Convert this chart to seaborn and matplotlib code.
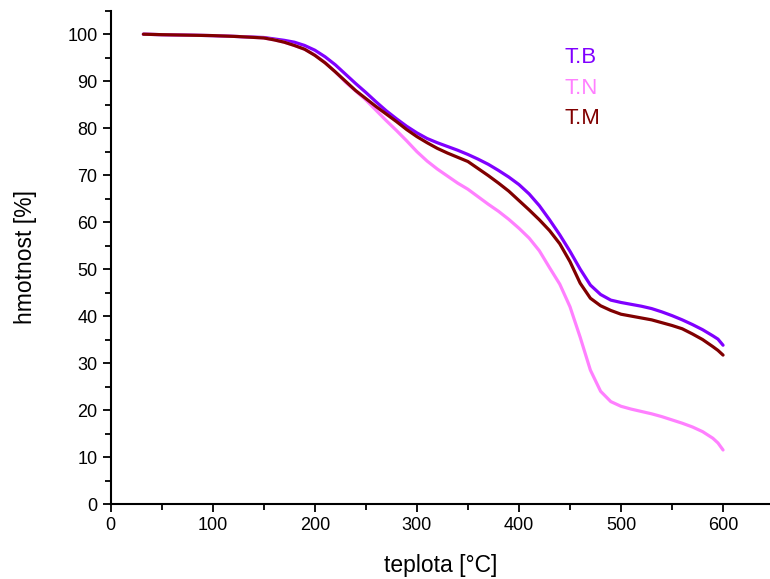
import matplotlib
matplotlib.use("Agg")
import matplotlib.pyplot as plt
import seaborn as sns
import pandas as pd
from matplotlib.ticker import MultipleLocator

temperature = [32, 50, 75, 100, 125, 150, 160, 170, 180, 190, 200, 210, 220, 230, 240, 250,
               260, 270, 280, 290, 300, 310, 320, 330, 340, 350, 360, 370, 380, 390, 400,
               410, 420, 430, 440, 450, 460, 470, 480, 490, 500, 510, 520, 530, 540, 550,
               560, 570, 580, 590, 595, 600]
tb = [100.0, 99.9, 99.8, 99.7, 99.5, 99.3, 99.0, 98.7, 98.3, 97.6, 96.6, 95.2, 93.5, 91.5,
      89.5, 87.6, 85.6, 83.7, 82.0, 80.4, 79.0, 77.8, 76.9, 76.1, 75.3, 74.4, 73.4, 72.3,
      71.0, 69.6, 68.0, 66.0, 63.5, 60.5, 57.3, 53.8, 50.0, 46.6, 44.6, 43.4, 42.9, 42.5,
      42.1, 41.6, 40.9, 40.1, 39.2, 38.2, 37.1, 35.8, 35.1, 33.8]
tn = [100.0, 99.9, 99.8, 99.7, 99.5, 99.2, 98.8, 98.3, 97.6, 96.8, 95.6, 94.0, 92.0, 89.8,
      87.9, 86.0, 83.8, 81.6, 79.5, 77.3, 75.0, 73.0, 71.3, 69.8, 68.3, 67.0, 65.4, 63.8,
      62.3, 60.6, 58.7, 56.6, 53.9, 50.3, 46.8, 42.0, 35.5, 28.5, 24.0, 21.8, 20.8, 20.2,
      19.7, 19.2, 18.6, 17.9, 17.2, 16.4, 15.4, 14.0, 13.0, 11.5]
tm = [100.0, 99.9, 99.8, 99.7, 99.5, 99.2, 98.8, 98.3, 97.6, 96.8, 95.5, 93.9, 92.0, 90.0,
      88.0, 86.3, 84.6, 83.0, 81.4, 79.7, 78.2, 76.9, 75.7, 74.7, 73.8, 72.9, 71.4, 69.9,
      68.3, 66.6, 64.6, 62.6, 60.5, 58.2, 55.4, 51.6, 47.0, 43.8, 42.2, 41.2, 40.4, 40.0,
      39.6, 39.2, 38.6, 38.0, 37.3, 36.2, 35.0, 33.5, 32.7, 31.7]
series_names = ["T.B", "T.N", "T.M"]
colors = ["#8000FF", "#FF80FF", "#800000"]

df = pd.concat([
    pd.DataFrame({"teplota": temperature, "hmotnost": vals, "vzorek": name})
    for name, vals in zip(series_names, [tb, tn, tm])
], ignore_index=True)

sns.set_style("ticks")
plt.rcParams["font.family"] = ["Liberation Sans", "DejaVu Sans"]

fig = plt.figure(figsize=(7.7, 5.79), dpi=100)
ax = fig.add_axes([0.1438, 0.1295, 0.8562, 0.852])

sns.lineplot(data=df, x="teplota", y="hmotnost", hue="vzorek",
             palette=dict(zip(series_names, colors)), linewidth=2.3,
             legend=False, ax=ax, sort=False)

ax.set_xlim(0, 646)
ax.set_ylim(0, 105)
ax.xaxis.set_major_locator(MultipleLocator(100))
ax.xaxis.set_minor_locator(MultipleLocator(50))
ax.yaxis.set_major_locator(MultipleLocator(10))
ax.yaxis.set_minor_locator(MultipleLocator(5))
ax.tick_params(which="major", direction="out", length=6, width=1.3, labelsize=13,
               colors="black", labelcolor="black")
ax.tick_params(which="minor", direction="out", length=4, width=1.3, colors="black")
for s in ["top", "right"]:
    ax.spines[s].set_visible(False)
for s in ["left", "bottom"]:
    ax.spines[s].set_linewidth(1.5)
    ax.spines[s].set_color("black")

ax.set_xlabel("teplota [°C]", fontsize=16.5, labelpad=14, color="black")
ax.set_ylabel("hmotnost [%]", fontsize=16.5, labelpad=22, color="black")

ypos = [95.1, 88.5, 82.1]
for name, c, yy in zip(series_names, colors, ypos):
    ax.text(445, yy, name, color=c, fontsize=16, va="center", ha="left")

fig.savefig("out.png", dpi=100)
